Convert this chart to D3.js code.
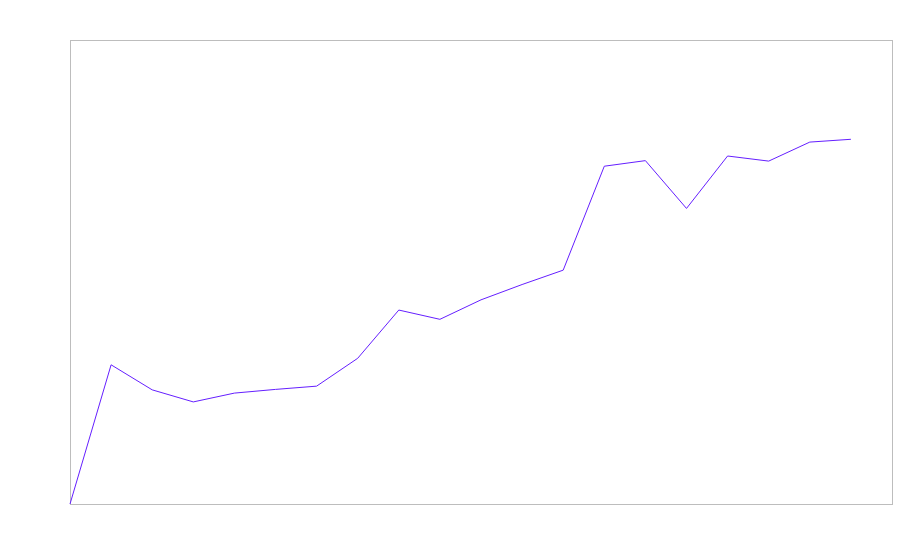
<!DOCTYPE html>
<html>
<head>
<meta charset="utf-8">
<script src="https://cdn.jsdelivr.net/npm/d3@7"></script>
<style>
	body { margin: 0; background: #fff; }
	svg { display: block; }
</style>
</head>
<body>
<svg id="chart" width="900" height="560"></svg>
<script>
// one value per step
const steps = [0, 1, 2, 3, 4, 5, 6, 7, 8, 9, 10, 11, 12, 13, 14, 15, 16, 17, 18, 19];
const values = [0, 30, 24.6, 22, 23.9, 24.7, 25.4, 31.4, 41.8, 39.8, 44, 47.3, 50.4, 72.8, 74, 63.7, 75, 73.9, 78, 78.6];

var svg = d3.select("#chart"),
	marginLeft = 70,
	marginTop = 40,
	width = 822,
	height = 464;

var xScale = d3.scaleLinear().domain([0, 20]).range([0, width]);
var yScale = d3.scaleLinear().domain([0, 100]).range([height, 0]);

var g = svg.append("g").attr("transform", "translate(" + marginLeft + "," + marginTop + ")");

// frame
g.append("rect")
	.attr("x", 0.5)
	.attr("y", 0.5)
	.attr("width", width)
	.attr("height", height)
	.attr("fill", "none")
	.attr("stroke", "#bdbdbd")
	.attr("stroke-width", 1);

var line = d3.line()
	.x(function (d, i) { return xScale(steps[i]); })
	.y(function (d) { return yScale(d); });

g.append("path")
	.datum(values)
	.attr("d", line)
	.attr("fill", "none")
	.attr("stroke", "#651fff")
	.attr("stroke-width", 1);
</script>
</body>
</html>
